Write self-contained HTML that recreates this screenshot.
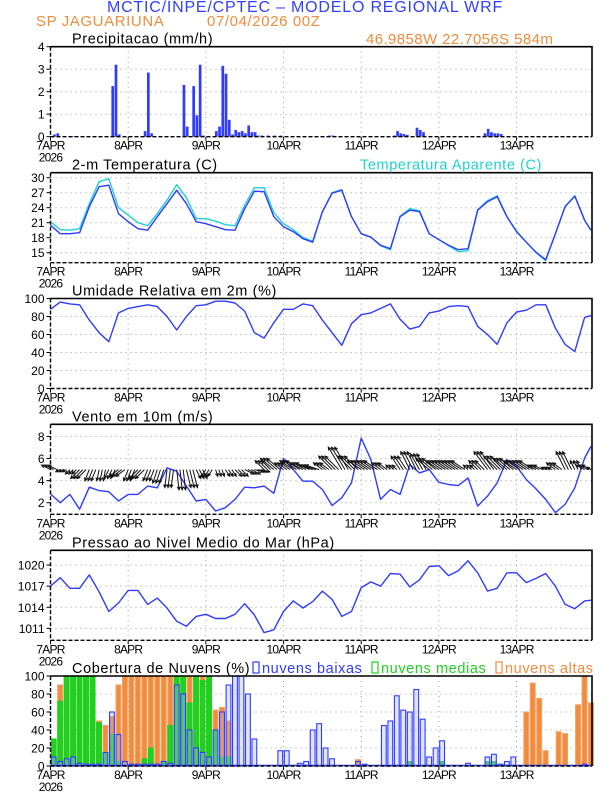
<!DOCTYPE html>
<html><head><meta charset="utf-8">
<style>
html,body{margin:0;padding:0;background:#fff;}
svg{display:block;font-family:"Liberation Sans",sans-serif;}
.tk{font-size:12px;fill:#000;}
.dl{font-size:12px;fill:#000;letter-spacing:-0.8px;}
.tt{font-size:14.5px;fill:#000;letter-spacing:0.6px;}
</style></head>
<body>
<svg id="chart" width="612" height="792" viewBox="0 0 612 792" xmlns="http://www.w3.org/2000/svg">
<text x="305" y="12" text-anchor="middle" font-size="16" fill="#3040ff" letter-spacing="0.8">MCTIC/INPE/CPTEC – MODELO REGIONAL WRF</text>
<text x="36" y="26" font-size="15" fill="#f08c3c" letter-spacing="0.6">SP JAGUARIUNA</text>
<text x="207" y="26" font-size="15" fill="#f08c3c" letter-spacing="0.6">07/04/2026 00Z</text>
<text x="366" y="44" font-size="15" fill="#f08c3c" letter-spacing="0.4">46.9858W 22.7056S 584m</text>
</svg>
<script>
// ---------- DATA ----------
const dayLabels = ["7APR","8APR","9APR","10APR","11APR","12APR","13APR"];
const yearLabel = "2026";
const seriesHours = [0,3,6,9,12,15,18,21,24,27,30,33,36,39,42,45,48,51,54,57,60,63,66,69,72,75,78,81,84,87,90,93,96,99,102,105,108,111,114,117,120,123,126,129,132,135,138,141,144,147,150,153,156,159,162,165,167];
const tempValues = [20.5,18.8,18.8,19.0,24.2,28.2,28.5,22.8,21.2,19.8,19.5,22.2,24.8,27.5,24.8,21.2,20.8,20.2,19.6,19.5,23.8,27.3,27.2,22.2,20.2,19.2,17.8,17.1,23.2,26.9,27.5,22.2,18.8,18.1,16.5,15.8,22.2,23.5,23.2,18.8,17.6,16.5,15.6,15.8,23.5,25.2,26.2,22.2,19.2,17.1,15.1,13.6,18.8,24.2,26.3,21.5,19.5];
const apparentTempValues = [21.2,19.6,19.5,19.8,24.8,29.2,29.8,24.0,22.5,21.0,20.4,22.8,25.5,28.6,26.0,21.8,21.8,21.3,20.6,20.4,24.5,28.0,28.0,23.0,20.8,19.6,18.0,17.3,23.2,27.0,27.6,22.2,18.8,18.1,16.4,15.6,22.3,23.8,23.4,18.8,17.6,16.4,15.2,15.4,23.6,25.4,26.4,22.2,19.3,17.1,15.0,13.4,18.8,24.3,26.4,21.5,19.5];
const humidityValues = [88,96,94,93,76,62,52,84,89,91,93,91,80,65,80,92,93,97,97,95,86,62,56,73,88,88,94,92,76,62,48,72,82,84,89,94,77,66,69,84,86,91,92,91,69,60,49,73,85,87,93,93,67,49,41,79,81];
const windSpeedValues = [2.8,2.0,2.75,1.4,3.4,3.1,3.0,2.15,2.75,2.75,3.5,3.35,5.15,4.85,3.5,2.15,2.3,1.25,1.55,2.3,3.4,3.35,3.5,2.85,6.0,5.0,3.95,3.95,3.2,1.75,2.45,3.8,7.85,5.9,2.3,3.2,2.75,5.45,4.7,5.0,3.85,3.65,3.55,4.25,1.7,2.6,3.8,5.9,5.3,4.1,3.25,2.3,1.1,1.85,3.35,6.05,7.1];
const windU = [-2,-1,-1,-2,-1,-0.5,-1,-2,-1,-2,-1,-1,-0.5,0.5,1,1,-1,0.5,1,1.5,2,2,-2,-3,-2,-3,-3,-3,-2,-3,-3,-3,-3,-3,-2,-1,-2,-2,-2,-3,-3,-3,-3,-1,-2,-3,-3,-3,-3,-3,-2,-1,-2,-2,-1,-2,-1];
const windV = [1,-0.5,-1,-2,-2.5,-2.5,-2,-1.5,-2.5,-2,-2.5,-3,-4,-4.5,-4,-2,-1.5,-1.5,-1.5,-1.5,-1,-0.5,2,2.5,1.5,2,1.5,1,1.5,3,5,3,2,2,1.5,1,3,4,3.5,2.5,2,2,2,1,2,4,3,2.5,2,2,1,0.5,1.5,4,2,1,0.5];
const pressureValues = [1017.0,1018.2,1016.7,1016.7,1018.6,1016.2,1013.4,1014.6,1016.4,1016.4,1014.4,1015.3,1013.9,1012.0,1011.3,1012.7,1013.0,1012.4,1012.4,1013.0,1014.5,1012.9,1010.4,1010.8,1013.4,1014.9,1013.9,1014.8,1016.3,1015.1,1012.7,1013.4,1016.8,1017.6,1017.0,1018.8,1018.7,1016.9,1017.9,1019.8,1019.9,1018.5,1019.2,1020.6,1018.9,1016.3,1016.7,1018.9,1018.9,1017.5,1018.1,1018.8,1017.0,1014.4,1013.8,1014.9,1015.0];
const precipHours = [1,2,7,19,20,21,29,30,31,41,42,44,45,46,47,51,52,53,54,55,56,57,58,59,60,61,62,63,64,65,67,69,71,86,87,106,107,108,109,110,113,114,115,134,135,136,137,138,139];
const precipValues = [0.1,0.15,0.02,2.25,3.2,0.1,0.25,2.85,0.15,2.3,0.45,2.25,0.95,3.2,0.05,0.25,0.45,3.15,2.8,0.75,0.1,0.3,0.2,0.25,0.15,0.5,0.2,0.2,0.05,0.05,0.05,0.05,0.05,0.05,0.05,0.05,0.25,0.15,0.12,0.08,0.4,0.3,0.2,0.15,0.35,0.2,0.15,0.15,0.12];
const cloudHigh = [0,90,100,100,100,100,100,50,45,55,90,100,100,100,100,100,100,100,100,100,100,100,100,100,100,62,65,50,0,0,0,0,0,0,0,0,0,0,0,0,0,0,0,0,0,0,0,7,0,0,0,0,0,0,0,0,0,0,0,0,0,0,0,0,0,0,0,0,0,0,0,0,0,60,92,75,17,0,38,36,0,68,100,70];
const cloudMid = [30,72,100,100,100,100,100,48,15,35,5,0,0,0,8,20,0,5,45,100,100,70,100,95,100,40,10,10,0,0,0,0,0,0,0,0,0,0,0,0,0,0,0,0,0,0,0,0,0,0,0,0,0,0,0,5,0,0,0,0,5,0,0,0,0,0,0,5,5,0,0,0,0,0,0,0,0,0,0,0,0,0,0,0];
const cloudLow = [10,5,8,10,3,2,2,2,15,60,35,5,2,2,2,2,2,5,3,90,80,40,20,15,10,40,60,90,100,100,80,30,0,0,0,17,17,0,3,5,40,47,20,8,0,0,0,5,2,0,0,45,50,78,62,60,85,52,10,20,28,0,0,0,3,0,0,10,13,2,5,10,0,0,0,0,0,0,0,0,0,0,2,0];

// ---------- LAYOUT ----------
const svg = document.getElementById('chart');
const NS = 'http://www.w3.org/2000/svg';
const X0 = 50.5, X1 = 592, HMAX = 167.3;
const xOf = h => X0 + h * (X1 - X0) / HMAX;
const BLUE = '#2f3cff', CYAN = '#1ed2d2', ORANGE = '#f08c3c', GREEN = '#1ed21e';

function mk(tag, attrs, parent) {
  const e = document.createElementNS(NS, tag);
  for (const k in attrs) e.setAttribute(k, attrs[k]);
  (parent || svg).appendChild(e);
  return e;
}

function panel(name, top, ymin, ymax, ticks, title, showYear) {
  const bot = top + 90;
  const g = mk('g', {});
  
  
  const yOf = v => bot - (v - ymin) / (ymax - ymin) * 90;
  for (let d = 1; d < 7; d++) {
    const l = mk('line', {x1: xOf(d*24), x2: xOf(d*24), y1: top, y2: bot, stroke: '#999', 'stroke-width': 1, 'stroke-dasharray': '1,4'}, g);
    
    
  }
  ticks.forEach(t => {
    const y = yOf(t);
    if (y > top + 1 && y < bot - 1) {
      const l = mk('line', {x1: X0, x2: X1, y1: y, y2: y, stroke: '#999', 'stroke-width': 1, 'stroke-dasharray': '1,4'}, g);
      
      
    }
    mk('line', {x1: X0 - 4, x2: X0, y1: y, y2: y, stroke: '#000', 'stroke-width': 1}, g);
    const tx = mk('text', {x: X0 - 6, y: y + 4.5, 'text-anchor': 'end', class: 'tk'}, g);
    tx.textContent = t;
    
    
  });
  dayLabels.forEach((lab, d) => {
    const x = xOf(d*24);
    mk('line', {x1: x, x2: x, y1: bot, y2: bot + 4, stroke: '#000', 'stroke-width': 1}, g);
    const tx = mk('text', {x: x, y: bot + 13, 'text-anchor': 'middle', class: 'dl'}, g);
    tx.textContent = lab;
    
    
  });
  if (showYear) {
    const ty = mk('text', {x: X0, y: bot + 25, 'text-anchor': 'middle', class: 'dl'}, g);
    ty.textContent = yearLabel;
    
    
  }
  const tt = mk('text', {x: 72, y: top - 3, class: 'tt'}, g);
  tt.textContent = title;
  
  
  const content = mk('g', {}, g);
  const frame = () => {
    mk('path', {d: `M${X0},${top} H${X1} V${bot}`, fill: 'none', stroke: '#000', 'stroke-width': 1.6}, g);
    mk('path', {d: `M${X0},${top} V${bot} H${X1}`, fill: 'none', stroke: '#000', 'stroke-width': 1.4, 'stroke-dasharray': '4,2'}, g);
  };
  return {g: content, yOf, top, bot, frame};
}

function line(p, vals, color, name) {
  const d = vals.map((v, i) => (i ? 'L' : 'M') + xOf(seriesHours[i]).toFixed(1) + ',' + p.yOf(v).toFixed(1)).join(' ');
  const e = mk('path', {d, fill: 'none', stroke: color, 'stroke-width': 1.4, 'stroke-linejoin': 'round'}, p.g);
  
  
}

// ---------- PANEL 1: precipitation ----------
const p1 = panel('precipitation', 46.7, 0, 4, [0,1,2,3,4], 'Precipitacao (mm/h)', true);
precipHours.forEach((h, i) => {
  const y = p1.yOf(precipValues[i]);
  const r = mk('rect', {x: xOf(h) - 0.6, y: y, width: 2.7, height: p1.bot - y, fill: BLUE}, p1.g);
  
  
});
p1.frame();

// ---------- PANEL 2: temperature ----------
const p2 = panel('temperature', 172.7, 13, 31, [15,18,21,24,27,30], '2-m Temperatura (C)', true);
const leg = mk('text', {x: 360, y: 169.7, class: 'tt', style: 'fill:' + CYAN});
leg.textContent = 'Temperatura Aparente (C)';


line(p2, apparentTempValues, CYAN, 'apparent-temperature-line');
line(p2, tempValues, BLUE, 'temperature-line');
p2.frame();

// ---------- PANEL 3: humidity ----------
const p3 = panel('humidity', 298.5, 0, 100, [0,20,40,60,80,100], 'Umidade Relativa em 2m (%)', true);
line(p3, humidityValues, BLUE, 'humidity-line');
p3.frame();

// ---------- PANEL 4: wind ----------
const p4 = panel('wind', 424.3, 0.95, 9.1, [2,4,6,8], 'Vento em 10m (m/s)', true);
line(p4, windSpeedValues, BLUE, 'wind-speed-line');
const base = p4.yOf(5);
seriesHours.forEach((h, i) => {
  [0, 1, 2].forEach(off => {
    if (h + off > 167) return;
    const x = xOf(h + off), sc = 4.5;
    const ex = x + windU[i] * sc, ey = base - windV[i] * sc;
    const ang = Math.atan2(ey - base, ex - x);
    const a1 = ang + Math.PI - 0.45, a2 = ang + Math.PI + 0.45;
    const d = `M${x.toFixed(1)},${base.toFixed(1)} L${ex.toFixed(1)},${ey.toFixed(1)} M${(ex+3.5*Math.cos(a1)).toFixed(1)},${(ey+3.5*Math.sin(a1)).toFixed(1)} L${ex.toFixed(1)},${ey.toFixed(1)} L${(ex+3.5*Math.cos(a2)).toFixed(1)},${(ey+3.5*Math.sin(a2)).toFixed(1)}`;
    const e = mk('path', {d, fill: 'none', stroke: '#111', 'stroke-width': 1}, p4.g);
    
    
  });
});
p4.frame();

// ---------- PANEL 5: pressure ----------
const p5 = panel('pressure', 550.3, 1009.3, 1022.1, [1011,1014,1017,1020], 'Pressao ao Nivel Medio do Mar (hPa)', true);
line(p5, pressureValues, BLUE, 'pressure-line');
p5.frame();

// ---------- PANEL 6: clouds ----------
const p6 = panel('cloud-cover', 676, 0, 100, [0,20,40,60,80,100], 'Cobertura de Nuvens (%)', true);
function cloudBars(vals, fill, stroke, name) {
  vals.forEach((v, i) => {
    if (v <= 0) return;
    const y = p6.yOf(v);
    const r = mk('rect', {x: xOf(i*2) + 0.8, y: y, width: 4.8, height: p6.bot - y, fill: fill, stroke: stroke, 'stroke-width': 1.1}, p6.g);
    
    
  });
}
cloudBars(cloudHigh, ORANGE, '#f5a060', 'high-cloud-bar');
cloudBars(cloudMid, GREEN, '#22cc22', 'mid-cloud-bar');
cloudBars(cloudLow, 'rgba(170,180,255,0.35)', BLUE, 'low-cloud-bar');
mk('line', {x1: X0, x2: X1, y1: p6.bot - 0.5, y2: p6.bot - 0.5, stroke: BLUE, 'stroke-width': 1.5}, p6.g);
p6.frame();
const legItems = [["nuvens baixas", BLUE, 253], ["nuvens medias", GREEN, 372], ["nuvens altas", ORANGE, 496]];
legItems.forEach(([t, c, x]) => {
  const r = mk('rect', {x: x, y: 662, width: 6, height: 11, fill: 'none', stroke: c, 'stroke-width': 1.2});
  
  
  const tx = mk('text', {x: x + 9, y: 673, class: 'tt', style: 'fill:' + c});
  tx.textContent = t;
  
  
});
</script>
</body></html>
